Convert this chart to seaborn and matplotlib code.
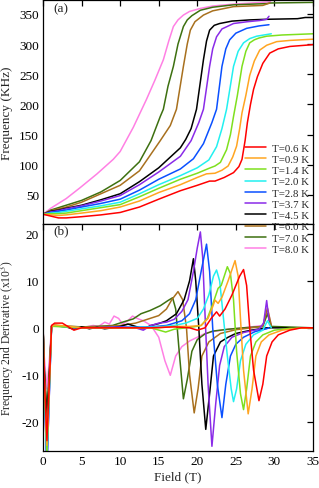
import numpy as np
import pandas as pd
import matplotlib
matplotlib.use("Agg")
import matplotlib.pyplot as plt
import seaborn as sns

temps = ["T=0.6 K", "T=0.9 K", "T=1.4 K", "T=2.0 K", "T=2.8 K",
         "T=3.7 K", "T=4.5 K", "T=6.0 K", "T=7.0 K", "T=8.0 K"]
colors = ["#ff0000", "#ffa521", "#7ee01e", "#22f0f0", "#0a50ff",
          "#8a2be8", "#000000", "#a8701e", "#3d7010", "#ff80e4"]

# ---------------- panel (a): frequency vs field ----------------
fa_06 = [0, 1, 2, 3, 5, 7.5, 10, 12.5, 15, 17.8, 20, 21.6, 22.3, 23.5, 24.7, 25.4, 25.8, 26.2, 26.5, 26.9, 27.3, 27.8, 28.5, 29.4, 30.5, 32, 35]
ya_06 = [18, 15, 12, 12, 14, 17, 21, 30, 43, 57, 66, 73, 73, 79, 87, 97, 109, 140, 170, 200, 225, 246, 268, 285, 292, 296, 299]
fa_09 = [0, 1, 2, 3, 5, 7.5, 10, 12.5, 15, 17.8, 20, 21.2, 22.3, 23.2, 24, 24.6, 25.1, 25.5, 25.8, 26.3, 26.8, 27.4, 28.1, 29, 30.3, 32, 35]
ya_09 = [18, 17, 16, 17, 20, 24, 30, 40, 54, 67, 79, 85, 86, 91, 98, 113, 131, 160, 186, 215, 248, 272, 290, 298, 304, 306, 308]
fa_14 = [0, 1, 2, 3, 5, 7.5, 10, 12.5, 15, 17.8, 20, 21.5, 22.3, 23, 23.8, 24.3, 24.7, 25.2, 25.8, 26.3, 26.8, 27.4, 28, 29, 31, 35]
ya_14 = [18, 19, 19, 20, 24, 29, 34, 47, 61, 76, 86, 94, 98, 104, 125, 150, 180, 215, 263, 288, 302, 307, 310, 313, 315, 317]
fa_20 = [0, 1, 2, 3, 5, 7.5, 10, 12.5, 15, 17.8, 20, 21.5, 22.5, 23.2, 23.8, 24.7, 25.3, 26, 26.8, 27.7, 29.6]
ya_20 = [18, 20, 21, 23, 27, 32, 38, 52, 67, 82, 95, 108, 130, 160, 192, 263, 288, 302, 309, 313, 317]
fa_28 = [0, 1, 2, 3, 5, 7.5, 10, 12.5, 15, 17.8, 19.5, 20.8, 21.9, 22.5, 23.2, 23.7, 24.2, 25, 26.4, 28, 29.3]
ya_28 = [18, 21, 23, 25, 30, 36, 43, 58, 76, 93, 110, 135, 170, 192, 263, 292, 307, 318, 326, 330, 332]
fa_37 = [0, 1, 2, 3, 5, 7.5, 10, 12.5, 15, 17.8, 19.2, 20.2, 20.8, 21.6, 22.0, 22.5, 23.2, 24.7, 26.5, 28.1, 29.0, 29.3]
ya_37 = [18, 22, 24, 27, 32, 40, 49, 67, 88, 114, 140, 170, 192, 263, 292, 312, 325, 334, 337, 339, 341, 346]
fa_45 = [0, 1, 2, 3, 5, 7.5, 10, 12.5, 15, 17.8, 18.5, 19.2, 19.9, 20.8, 21.2, 21.6, 22.2, 22.9, 24.5, 26.8, 29, 33, 34, 35]
ya_45 = [18, 23, 25, 28, 33, 42, 52, 72, 95, 128, 142, 160, 192, 274, 305, 323, 331, 334, 338, 340, 341, 342, 344, 344]
fa_60 = [0, 1, 2, 3, 5, 7.5, 10, 12.5, 15.2, 16.5, 17.3, 18.2, 18.7, 19.1, 19.7, 20.8, 22, 24.7, 28.5, 29.4]
ya_60 = [18, 24, 27, 30, 38, 52, 66, 90, 140, 165, 192, 263, 300, 323, 337, 348, 355, 362, 364, 368]
fa_70 = [0, 1, 2, 3, 5, 7.5, 10, 12.5, 14, 15.2, 15.6, 16.2, 16.9, 17.5, 18.2, 18.7, 19.3, 20.4, 22, 24.7, 29, 29.5, 35]
ya_70 = [18, 25, 29, 33, 41, 55, 74, 105, 140, 180, 192, 230, 263, 300, 329, 340, 347, 356, 361, 365, 367, 368, 369]
fa_80 = [0, 1, 2, 3, 4.8, 7, 9.1, 10, 11.7, 13.4, 14.5, 15.6, 16.3, 16.9, 17.5, 18.2, 19, 20.4, 22, 24.6, 29.5]
ya_80 = [18, 28, 36, 44, 62, 85, 109, 122, 162, 208, 240, 274, 305, 329, 340, 348, 354, 359, 363, 366, 370]

# ---------------- panel (b): 2nd derivative (x10^3) ----------------
fb_06 = [0, 0.15, 0.5, 0.85, 1.1, 1.5, 2.5, 3.2, 4, 5, 7, 10, 14, 17, 19, 20, 21, 21.8, 22.5, 22.9, 23.6, 24.5, 25.5, 26.0, 26.4, 26.8, 27.3, 28.0, 28.5, 29.0, 29.7, 30.5, 32, 33.5, 35]
yb_06 = [0, -10, -24, -10, 0.5, 1, 1, 0.3, -0.5, 0, 0, 0, 0, 0.2, 0, -0.5, 0, 2, 3.4, 2.5, 4, 7, 11, 12.4, 9, 0, -9, -15.5, -12, -6, -3, -1.5, -0.5, 0, 0]
fb_09 = [0, 0.15, 0.5, 0.85, 1.1, 1.5, 3, 5, 10, 15, 17, 19, 20.5, 21.4, 22, 22.3, 22.7, 23.2, 24, 24.9, 25.3, 25.6, 26, 26.6, 27.1, 27.6, 28.3, 29.3, 31, 33, 35]
yb_09 = [0, -10, -25, -10, 0.3, 0.6, 0.4, 0, 0, 0, 0.3, 0.3, 0.5, 2, 4.5, 5.9, 5.2, 6.5, 10, 14.3, 11, 2, -9, -18.3, -13, -6, -3, -1.5, -0.5, -0.1, 0]
fb_14 = [0, 0.15, 0.5, 0.85, 1.1, 1.5, 5, 10, 14, 15.9, 17, 18.5, 19.5, 20.5, 21.3, 22, 22.7, 23.1, 23.9, 24.3, 24.7, 25.1, 25.6, 26, 26.4, 26.9, 27.6, 28.5, 30, 32, 35]
yb_14 = [0, -11, -27, -11, 0.3, 0.3, 0, 0, 0, -0.9, -0.3, 0, 0.2, 0.5, 2, 5, 8.4, 9, 13, 11.5, 6, -5, -14, -17.4, -13, -6, -3, -1.5, -0.5, -0.1, 0]
fb_20 = [0, 0.15, 0.5, 0.85, 1.1, 1.5, 5, 10, 15, 17, 18.5, 20, 20.8, 21.5, 22.1, 22.5, 22.9, 23.4, 23.9, 24.4, 24.7, 25.1, 25.6, 26.3, 27.3, 28.5, 29.1, 29.6]
yb_20 = [0, -11, -28, -11, 0.3, 0.4, 0, 0, 0.2, 0.5, 1, 2, 4, 7, 11, 12.3, 10, 2, -6, -13, -15.7, -13, -7, -3.5, -1.5, -0.5, 1.5, 0]
fb_28 = [0, 0.15, 0.5, 0.85, 1.1, 1.5, 5, 10, 14, 16, 17, 18, 19, 19.8, 20.5, 21.2, 21.6, 22, 22.6, 23.2, 23.7, 24.3, 25, 26, 27.5, 29, 29.3]
yb_28 = [0, -12, -30, -12, 0.3, 0.4, 0, 0.1, 0.2, 0.5, 1, 1.5, 3, 6, 12, 17.8, 12, 0, -12, -19.1, -12, -6, -3.5, -2, -0.8, -0.2, 0]
fb_37 = [0, 0.15, 0.5, 0.85, 1.1, 1.5, 4, 7, 10, 12, 13, 14, 15, 16, 17, 18, 18.8, 19.5, 20, 20.4, 20.7, 21, 21.4, 21.9, 22.4, 22.9, 23.5, 24.5, 26, 28, 28.6, 29, 29.3]
yb_37 = [0, -12, -30, -12, 0.3, 0.5, 0, 0, 0.2, 0, -0.5, 0.5, 1, 1.2, 1.8, 3.5, 6, 12, 17, 20.4, 15, 3, -12, -25.2, -16, -8, -4, -2, -1, -0.3, 1, 5.8, 1.5]
fb_45 = [0, 0.15, 0.5, 0.85, 1.1, 1.5, 3, 4, 5, 6, 7, 8, 9, 10, 11, 12, 13, 14, 15, 16, 17.3, 18.3, 19, 19.5, 19.8, 20.2, 20.6, 21.1, 21.6, 22.1, 23, 24, 25, 27, 29, 35]
yb_45 = [0, -9, -20, -9, 0.3, 0.5, 0.2, -0.3, 0.2, -0.2, 0.1, -0.2, 0, 0.3, 0.8, 0.3, -0.2, 0.5, 0.9, 1.5, 3, 6, 10, 14.7, 10, 0, -12, -21.6, -14, -6, -3, -2, -1.2, -0.5, 0, 0]
fb_60 = [0, 0.15, 0.5, 0.85, 1.1, 1.5, 5, 8, 10, 12, 13.5, 15, 16, 16.7, 17.5, 18.1, 18.6, 19, 19.6, 20.1, 20.6, 21.5, 23, 25, 28.5, 29.1, 29.6]
yb_60 = [0, -9, -21, -9, 0.3, 0.5, 0.2, 0.3, 0.5, 1, 1.8, 2.6, 4, 6, 7.7, 6, 0, -10, -18.1, -13, -6, -3, -1.2, -0.4, 0.3, 4.2, 0.5]
fb_70 = [0, 0.15, 0.5, 0.85, 1.1, 1.5, 3, 5, 7, 9, 10.5, 11.7, 12.7, 13.9, 15.2, 16.2, 16.8, 17.2, 17.6, 18.2, 18.7, 19.3, 20, 21, 22, 24, 26, 28.5, 29.1, 29.6, 35]
yb_70 = [0, -8, -18, -8, 0.3, 0.5, 0.3, 0.2, 0.3, 0.5, 1.3, 1.9, 3, 3.7, 4.7, 5.8, 6.4, 4, -4, -15.1, -11, -5, -2.5, -1.3, -0.7, -0.3, 0, 0.3, 3, 0.3, 0]
fb_80 = [0, 0.15, 0.5, 0.85, 1.1, 1.5, 3, 5, 6.5, 7.2, 8, 8.6, 9.2, 9.8, 10.3, 11, 11.6, 12.2, 13, 14, 15, 15.8, 16.5, 17.2, 18, 19, 20, 21, 22, 24, 26, 28.5, 29.1, 29.6]
yb_80 = [0, -6, -13, -6, 0.5, 0.6, 0.3, 0, 0.5, 0.3, 1.2, 0.8, 2.5, 2, 0.8, 1.5, 2.5, 2, 1.5, 0.5, -2, -7, -10.1, -6, -4, -2.8, -2, -1.2, -0.8, -0.3, 0, 0.5, 4, 0.5]

fa = [fa_06, fa_09, fa_14, fa_20, fa_28, fa_37, fa_45, fa_60, fa_70, fa_80]
ya = [ya_06, ya_09, ya_14, ya_20, ya_28, ya_37, ya_45, ya_60, ya_70, ya_80]
fb = [fb_06, fb_09, fb_14, fb_20, fb_28, fb_37, fb_45, fb_60, fb_70, fb_80]
yb = [yb_06, yb_09, yb_14, yb_20, yb_28, yb_37, yb_45, yb_60, yb_70, yb_80]

rows_a, rows_b = [], []
for t, xs, ys in zip(temps, fa, ya):
    for i, (x, y) in enumerate(zip(xs, ys)):
        rows_a.append((t, i, x, y))
for t, xs, ys in zip(temps, fb, yb):
    for i, (x, y) in enumerate(zip(xs, ys)):
        rows_b.append((t, i, x, y))
dfa = pd.DataFrame(rows_a, columns=["T", "i", "Field", "Freq"])
dfb = pd.DataFrame(rows_b, columns=["T", "i", "Field", "D2"])

sns.set_theme(style="white")
plt.rcParams["font.family"] = ["Liberation Serif", "DejaVu Serif"]
plt.rcParams["mathtext.fontset"] = "stix"
plt.rcParams["axes.unicode_minus"] = False
plt.rcParams["axes.edgecolor"] = "black"
plt.rcParams["axes.linewidth"] = 0.9

fig = plt.figure(figsize=(3.19, 4.89), dpi=100)
ax1 = fig.add_axes([0.135, 0.540, 0.846, 0.458])
ax2 = fig.add_axes([0.135, 0.0757, 0.846, 0.4643])

pal = dict(zip(temps, colors))
for t in temps[::-1]:
    sub = dfa[dfa["T"] == t]
    sns.lineplot(data=sub, x="Field", y="Freq", color=pal[t], lw=1.1,
                 sort=False, estimator=None, ax=ax1, label=t)
    subb = dfb[dfb["T"] == t]
    sns.lineplot(data=subb, x="Field", y="D2", color=pal[t], lw=1.1,
                 sort=False, estimator=None, ax=ax2, legend=False)

for ax in (ax1, ax2):
    ax.set_xlim(0, 35)
    ax.tick_params(direction="in", top=True, right=True, length=4, width=0.9,
                   labelsize=9.5, colors="black", pad=3)
    ax.set_xticks(np.arange(0, 36, 5))

ax1.set_ylim(2, 373)
ax1.set_yticks(np.arange(50, 351, 50))
ax1.set_xticklabels([])
ax1.set_xlabel("")
ax1.set_ylabel("Frequency (KHz)", fontsize=9.5, labelpad=4)
ax1.text(0.037, 0.962, "(a)", transform=ax1.transAxes, fontsize=9.5, va="center")

ax2.set_ylim(-26.2, 22.1)
ax2.set_yticks([-20, -10, 0, 10, 20])
ax2.set_xlabel("Field (T)", fontsize=9.5, labelpad=2)
ax2.set_ylabel("Frequency 2nd Derivative (x10$^3$)", fontsize=8.4)
ax2.yaxis.set_label_coords(-0.1, 0.5)
ax2.text(0.037, 0.972, "(b)", transform=ax2.transAxes, fontsize=9.5, va="center")

handles, labels = ax1.get_legend_handles_labels()
order = [labels.index(t) for t in temps]
ax1.get_legend().remove()
fig.legend([handles[i] for i in order], [labels[i] for i in order],
           loc="center left", bbox_to_anchor=(0.75, 0.592), frameon=False,
           fontsize=7.8, handlelength=2.0, handletextpad=0.5, labelspacing=0.15,
           borderpad=0.0)

fig.savefig("out.png", dpi=100)
